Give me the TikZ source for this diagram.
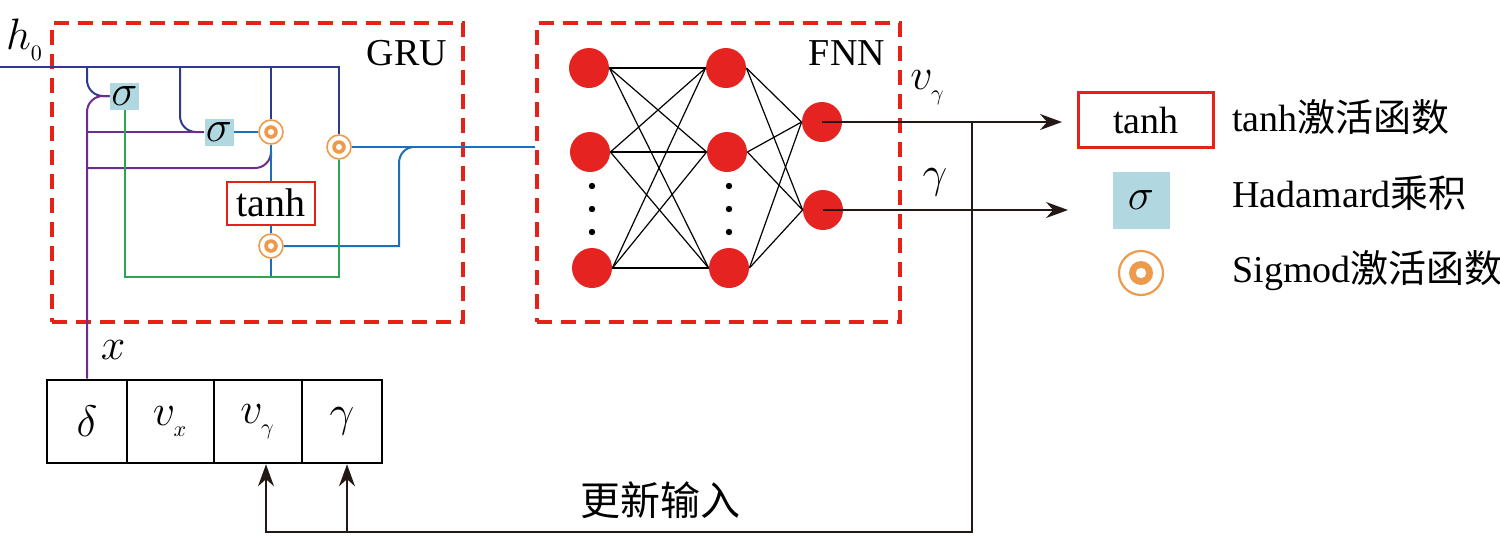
\RequirePackage{fix-cm}
\documentclass[tikz,border=0pt]{standalone}
\usepackage{fontspec}
\setmainfont{Liberation Serif}
\newfontfamily\cjk{Noto Sans CJK SC}
\usetikzlibrary{arrows.meta}
\definecolor{navyc}{HTML}{2E3A8C}
\definecolor{purpc}{HTML}{6B2D8F}
\definecolor{greenc}{HTML}{2EA550}
\definecolor{bluec}{HTML}{1F6FB8}
\definecolor{orangec}{HTML}{EE9A4D}
\definecolor{sigc}{HTML}{B1D8E0}
\definecolor{redc}{HTML}{E62117}
\definecolor{neurc}{HTML}{E52421}
\definecolor{inkc}{HTML}{231815}
\begin{document}
\begin{tikzpicture}[x=0.5pt,y=-0.5pt,
  font=\fontsize{19}{23}\selectfont,
  mth/.style={font=\fontsize{22}{26}\selectfont},
  navyl/.style={draw=navyc,line width=1pt},
  purpl/.style={draw=purpc,line width=1pt},
  greenl/.style={draw=greenc,line width=1pt},
  bluel/.style={draw=bluec,line width=1pt},
  dashbox/.style={draw=redc,line width=1.6pt,dash pattern=on 7.5pt off 4.5pt,inner sep=0pt},
  sigbox/.style={mth,fill=sigc,minimum width=14.5pt,minimum height=13.5pt,inner sep=0pt},
  tanhbox/.style={draw=redc,fill=white,line width=1pt,minimum width=44pt,minimum height=21.5pt,inner sep=0pt},
  gatec/.style={circle,draw=orangec,fill=white,line width=0.8pt,minimum size=12pt,inner sep=0pt,
    path picture={\fill[orangec] (path picture bounding box.center) circle (3.4pt);
                  \fill[white] (path picture bounding box.center) circle (1.5pt);}},
  legcirc/.style={circle,draw=orangec,fill=white,line width=1.1pt,minimum size=22pt,inner sep=0pt,
    path picture={\fill[orangec] (path picture bounding box.center) circle (6pt);
                  \fill[white] (path picture bounding box.center) circle (2.6pt);}},
  neuron/.style={circle,fill=neurc,minimum size=20pt,inner sep=0pt},
  edge/.style={draw=black,line width=0.6pt},
  outl/.style={draw=inkc,line width=0.75pt},
  tip/.style={-{Stealth[length=11pt,width=8pt]}},
  cell/.style={mth,draw=black,line width=1.3pt,minimum height=41.5pt,inner sep=0pt},
  lbl/.style={inner sep=0pt}
]
\useasboundingbox (0,0) rectangle (1500,537);

% dashed boxes
\node[dashbox,minimum width=205.5pt,minimum height=149.5pt] (gru) at (257.5,172.5) {};
\node[dashbox,minimum width=181.5pt,minimum height=149.5pt] (fnn) at (718.5,172.5) {};
\node[lbl] (grut) at (407,53) {GRU};
\node[lbl] (fnnt) at (847,53) {FNN};

% table
\node[cell,minimum width=40pt] (c1) at (87,421.5) {$\delta$};
\node[cell,minimum width=43.5pt] (c2) at (170.5,421.5) {$v_{_x}$};
\node[cell,minimum width=44pt] (c3) at (258,421.5) {$v_{_\gamma}$};
\node[cell,minimum width=40pt] (c4) at (342,421.5) {$\gamma$};

% GRU nodes
\node[sigbox] (s1) at (124.5,96) {$\sigma$};
\node[sigbox] (s2) at (219,132) {$\sigma$};
\node[gatec] (g1) at (271,132) {};
\node[gatec] (g2) at (339,147) {};
\node[tanhbox,font=\fontsize{20}{24}\selectfont] (th) at (271,203) {tanh};
\node[gatec] (g3) at (271,246) {};

\coordinate (hs) at (0,67);
\coordinate (b1) at (87,67);
\coordinate (b2) at (180,67);
\coordinate (b3) at (271,67);
\coordinate (b4) at (339,67);
\coordinate (pj) at (271,157);
\coordinate (bb) at (271,277);
\coordinate (gb) at (339,277);
\coordinate (cr) at (399,246);
\coordinate (ct) at (414,147);

% navy lines
\draw[navyl] (hs) -- (b4) -- (g2.north);
\draw[navyl,rounded corners=8] (b1) |- (s1.west);
\draw[navyl,rounded corners=8] (b2) |- (s2.west);
\draw[navyl] (b3) -- (g1.north);
% purple lines
\draw[purpl,rounded corners=8] (c1.north) |- (s1.west);
\draw[purpl] (c1.north |- s2.west) -- (s2.west);
\draw[purpl,rounded corners=8] (87,168) -| (pj);
% blue lines
\draw[bluel] (s2.east) -- (g1.west);
\draw[bluel] (g1.south) -- (th.north);
\draw[bluel] (th.south) -- (g3.north);
\draw[bluel] (g3.south) -- (bb);
\draw[bluel] (g2.east) -- (g2.east -| fnn.west);
\draw[bluel] (g3.east) -- (cr) -- (399,163) to[out=90,in=180] (ct);
% green lines
\draw[greenl] (s1.south) |- (gb) -- (g2.south);

% labels
\node[lbl,mth] (h0) at (25,40) {$h_{_0}$};
\node[lbl,mth] (xl) at (113,350) {$x$};

% FNN
\node[neuron] (n11) at (589,68) {};
\node[neuron] (n12) at (590,152) {};
\node[neuron] (n13) at (592,268) {};
\node[neuron] (n21) at (726,68) {};
\node[neuron] (n22) at (727,152) {};
\node[neuron] (n23) at (729,268) {};
\node[neuron] (n31) at (822,122) {};
\node[neuron] (n32) at (823,210) {};
\foreach \y in {186,209,232} {
  \fill (592,\y) circle (1.6pt);
  \fill (729,\y) circle (1.6pt);
}
\foreach \i in {1,2,3} {
  \foreach \j in {1,2,3} { \draw[edge] (n1\i.east) -- (n2\j.west); }
  \foreach \j in {1,2} { \draw[edge] (n2\i.east) -- (n3\j.west); }
}

% outputs
\coordinate (a1) at (1062,122);
\coordinate (a2) at (1068,210);
\draw[outl,tip] (n31.center) -- (a1);
\draw[outl,tip] (n32.center) -- (a2);
\node[lbl,mth] (vyl) at (928,88) {$v_{_\gamma}$};
\node[lbl,mth] (gl) at (935,182) {$\gamma$};

% feedback
\coordinate (f0) at (972,122);
\coordinate (f1) at (972,532);
\coordinate (f2) at (266,532);
\coordinate (f3) at (347,532);
\draw[outl,tip] (f0) -- (f1) -- (f2) -- (f2 |- c3.south);
\draw[outl,tip] (f3) -- (f3 |- c4.south);
\node[lbl,font=\fontsize{20}{24}\selectfont\cjk] (upd) at (660,500) {更新输入};

% legend
\node[tanhbox,minimum width=67.5pt,minimum height=27.5pt,line width=1.25pt] (lt) at (1146,120) {tanh};
\node[sigbox,minimum width=28.5pt,minimum height=28.5pt] (ls) at (1141,200) {$\sigma$};
\node[legcirc] (lc) at (1141,273) {};
\node[lbl,anchor=base west] (ltt) at (1232,131) {tanh{\cjk 激活函数}};
\node[lbl,anchor=base west] (lst) at (1232,207) {Hadamard{\cjk 乘积}};
\node[lbl,anchor=base west] (lct) at (1232,282) {Sigmod{\cjk 激活函数}};
\end{tikzpicture}
\end{document}
